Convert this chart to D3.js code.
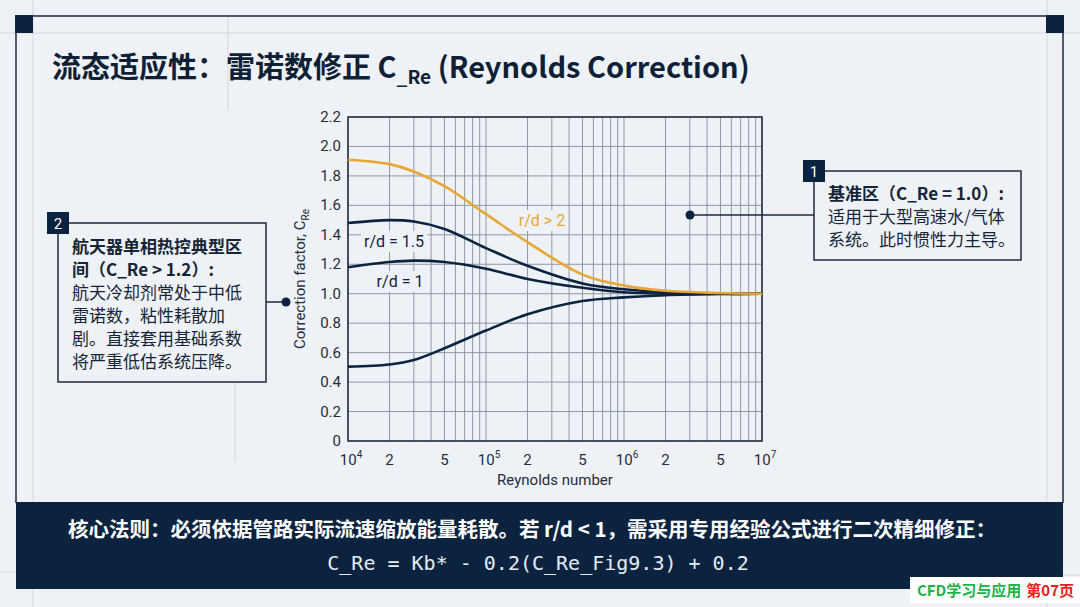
<!DOCTYPE html>
<html>
<head>
<meta charset="utf-8">
<script src="https://cdn.jsdelivr.net/npm/d3@7"></script>
<style>
  html, body { margin: 0; padding: 0; background: #eef2f6; }
  svg { display: block; }
  text { font-family: Roboto, "Noto Sans CJK SC", sans-serif; }
  .cjk { font-family: "Noto Sans CJK SC", "Noto Sans", sans-serif; }
</style>
</head>
<body>
<div id="chart"></div>
<script>
// data
var reynolds = [1e4, 2e4, 3e4, 5e4, 1e5, 2e5, 5e5, 1e6, 2e6, 5e6, 1e7];
var rdOver2 = [1.91, 1.88, 1.83, 1.73, 1.54, 1.35, 1.13, 1.055, 1.02, 1.005, 1.0];
var rd15 = [1.48, 1.50, 1.49, 1.44, 1.31, 1.19, 1.07, 1.03, 1.01, 1.0, 1.0];
var rd1 = [1.18, 1.215, 1.225, 1.215, 1.17, 1.10, 1.04, 1.01, 1.0, 1.0, 1.0];
var rdLow = [0.505, 0.52, 0.55, 0.63, 0.75, 0.86, 0.95, 0.975, 0.99, 0.998, 1.0];

var yTicks = [0, 0.2, 0.4, 0.6, 0.8, 1.0, 1.2, 1.4, 1.6, 1.8, 2.0, 2.2];
var xTickLabels = [[1e4, '10', '4'], [2e4, '2'], [5e4, '5'], [1e5, '10', '5'], [2e5, '2'], [5e5, '5'],
  [1e6, '10', '6'], [2e6, '2'], [5e6, '5'], [1e7, '10', '7']];

var titleMain = '流态适应性：雷诺数修正 C';
var titleSub = '_Re';
var titleTail = ' (Reynolds Correction)';

var box1Lines = ['基准区（C_Re = 1.0）:', '适用于大型高速水/气体', '系统。此时惯性力主导。'];
var box2Lines = ['航天器单相热控典型区', '间（C_Re > 1.2）:', '航天冷却剂常处于中低', '雷诺数，粘性耗散加', '剧。直接套用基础系数', '将严重低估系统压降。'];
var footerRule = '核心法则：必须依据管路实际流速缩放能量耗散。若 r/d < 1，需采用专用经验公式进行二次精细修正：';
var footerFormula = 'C_Re = Kb* - 0.2(C_Re_Fig9.3) + 0.2';

var W = 1080, H = 607;
var navy = '#0c2340';
var orange = '#e8a735';
var bg = '#eef2f6';

var svg = d3.select('#chart').append('svg')
  .attr('width', W)
  .attr('height', H);

svg.append('rect').attr('width', W).attr('height', H).attr('fill', bg);

// faint background guide lines
var guide = svg.append('g').attr('stroke', '#d3d9e1').attr('stroke-width', 1);
guide.append('line').attr('x1', 33).attr('x2', 33).attr('y1', 0).attr('y2', H);
guide.append('line').attr('x1', 1047).attr('x2', 1047).attr('y1', 0).attr('y2', H);
guide.append('line').attr('x1', 0).attr('x2', W).attr('y1', 33).attr('y2', 33);
guide.append('line').attr('x1', 228).attr('x2', 228).attr('y1', 16).attr('y2', 110);
guide.append('line').attr('x1', 235).attr('x2', 235).attr('y1', 380).attr('y2', 463);
guide.append('line').attr('x1', 0).attr('x2', 33).attr('y1', 572).attr('y2', 572);
guide.append('line').attr('x1', 1063).attr('x2', W).attr('y1', 575).attr('y2', 575);

// outer frame
var frame = svg.append('g').attr('stroke', '#1c2b3d').attr('stroke-width', 1.5).attr('fill', 'none');
frame.append('path').attr('d', 'M16,503 L16,16 L1063,16 L1063,503');
svg.append('rect').attr('x', 15).attr('y', 15).attr('width', 18).attr('height', 18).attr('fill', navy);
svg.append('rect').attr('x', 1046).attr('y', 15).attr('width', 18).attr('height', 18).attr('fill', navy);

// title
var title = svg.append('text')
  .attr('class', 'cjk')
  .attr('x', 52).attr('y', 78)
  .attr('fill', '#0f1f35')
  .style('font-size', '29px')
  .style('font-weight', 700);
title.append('tspan').text(titleMain);
title.append('tspan').attr('dy', 6).style('font-size', '19px').text(titleSub);
title.append('tspan').attr('dy', -6).text(titleTail);

// plot
var plotLeft = 348, plotRight = 762, plotTop = 117, plotBottom = 441;

var x = d3.scaleLog().domain([1e4, 1e7]).range([plotLeft, plotRight]);
var y = d3.scaleLinear().domain([0, 2.2]).range([plotBottom, plotTop]);

var grid = svg.append('g').attr('stroke', '#8d98a5').attr('stroke-width', 1);
var minor = [];
[1e4, 1e5, 1e6].forEach(function(d) {
  for (var k = 1; k <= 9; k++) minor.push(d * k);
});
minor.push(1e7);

grid.selectAll('line.vx')
  .data(minor)
  .enter()
  .append('line')
  .attr('class', 'vx')
  .attr('x1', function(d) { return x(d); })
  .attr('x2', function(d) { return x(d); })
  .attr('y1', plotTop)
  .attr('y2', plotBottom);

grid.selectAll('line.hy')
  .data(yTicks)
  .enter()
  .append('line')
  .attr('class', 'hy')
  .attr('x1', plotLeft)
  .attr('x2', plotRight)
  .attr('y1', function(d) { return y(d); })
  .attr('y2', function(d) { return y(d); });

svg.append('rect')
  .attr('x', plotLeft).attr('y', plotTop)
  .attr('width', plotRight - plotLeft).attr('height', plotBottom - plotTop)
  .attr('fill', 'none')
  .attr('stroke', '#1e2a38')
  .attr('stroke-width', 1.5);

// y tick labels
svg.selectAll('text.yt')
  .data(yTicks)
  .enter()
  .append('text')
  .attr('class', 'yt')
  .attr('x', plotLeft - 7)
  .attr('y', function(d) { return y(d) + 5; })
  .attr('text-anchor', 'end')
  .attr('fill', '#1f2d3d')
  .style('font-size', '15px')
  .text(function(d) { return d === 0 ? '0' : d3.format('.1f')(d); });

// x tick labels
var xt = svg.selectAll('text.xt')
  .data(xTickLabels)
  .enter()
  .append('text')
  .attr('class', 'xt')
  .attr('x', function(d) { return x(d[0]) + (d[2] ? 3 : 0); })
  .attr('y', plotBottom + 24)
  .attr('text-anchor', 'middle')
  .attr('fill', '#1f2d3d')
  .style('font-size', '15px');
xt.append('tspan').text(function(d) { return d[1]; });
xt.append('tspan')
  .attr('dy', -7)
  .style('font-size', '10px')
  .text(function(d) { return d[2] || ''; });

svg.append('text')
  .attr('x', (plotLeft + plotRight) / 2)
  .attr('y', 485)
  .attr('text-anchor', 'middle')
  .attr('fill', '#1f2d3d')
  .style('font-size', '15px')
  .text('Reynolds number');

var yl = svg.append('text')
  .attr('transform', 'translate(305,' + ((plotTop + plotBottom) / 2) + ') rotate(-90)')
  .attr('text-anchor', 'middle')
  .attr('fill', '#1f2d3d')
  .style('font-size', '15px');
yl.append('tspan').text('Correction factor, C');
yl.append('tspan').attr('dy', 4).style('font-size', '10px').text('Re');

// curve labels (with a background patch over the grid)
var curveLabels = [
  { text: 'r/d > 2', x: 542, y: 226, color: orange },
  { text: 'r/d = 1.5', x: 394, y: 247, color: navy },
  { text: 'r/d = 1', x: 400, y: 287, color: navy }
];
var labelG = svg.selectAll('g.cl')
  .data(curveLabels)
  .enter()
  .append('g')
  .attr('class', 'cl');
var labelBg = labelG.append('rect').attr('fill', bg);
var labelText = labelG.append('text')
  .attr('x', function(d) { return d.x; })
  .attr('y', function(d) { return d.y; })
  .attr('text-anchor', 'middle')
  .attr('fill', function(d) { return d.color; })
  .style('font-size', '16px')
  .text(function(d) { return d.text; });
labelText.each(function(d, i) {
  var b = this.getBBox();
  d3.select(labelBg.nodes()[i])
    .attr('x', b.x - 3).attr('y', b.y - 1)
    .attr('width', b.width + 6).attr('height', b.height + 2);
});

// curves
var line = d3.line()
  .x(function(d) { return x(d[0]); })
  .y(function(d) { return y(d[1]); })
  .curve(d3.curveCatmullRom.alpha(0.5));

var series = [
  { values: rdLow, color: navy },
  { values: rd1, color: navy },
  { values: rd15, color: navy },
  { values: rdOver2, color: orange }
];

svg.selectAll('path.curve')
  .data(series)
  .enter()
  .append('path')
  .attr('class', 'curve')
  .attr('d', function(s) { return line(reynolds.map(function(r, i) { return [r, s.values[i]]; })); })
  .attr('fill', 'none')
  .attr('stroke', function(s) { return s.color; })
  .attr('stroke-width', 2.6);

// callout boxes
function callout(bx, by, bw, bh, num, lines, boldCount, tx, ty, lh) {
  svg.append('rect')
    .attr('x', bx).attr('y', by).attr('width', bw).attr('height', bh)
    .attr('fill', bg)
    .attr('stroke', '#1c2b3d')
    .attr('stroke-width', 1.5);
  svg.append('rect')
    .attr('x', bx - 11).attr('y', by - 11).attr('width', 22).attr('height', 22)
    .attr('fill', navy);
  svg.append('text')
    .attr('x', bx).attr('y', by + 6)
    .attr('text-anchor', 'middle')
    .attr('fill', '#ffffff')
    .style('font-size', '15px')
    .text(num);
  svg.selectAll(null)
    .data(lines)
    .enter()
    .append('text')
    .attr('class', 'cjk')
    .attr('x', tx)
    .attr('y', function(d, i) { return ty + i * lh; })
    .attr('fill', '#152436')
    .style('font-size', '17px')
    .style('font-weight', function(d, i) { return i < boldCount ? 700 : 400; })
    .text(function(d) { return d; });
}

// connector 1
svg.append('line').attr('x1', 690).attr('x2', 815).attr('y1', 215).attr('y2', 215)
  .attr('stroke', '#1c2b3d').attr('stroke-width', 1.5);
svg.append('circle').attr('cx', 690).attr('cy', 215).attr('r', 4.5).attr('fill', navy);
callout(814, 171, 207, 89, '1', box1Lines, 1, 828, 200, 23);

// connector 2
svg.append('line').attr('x1', 266).attr('x2', 286).attr('y1', 302).attr('y2', 302)
  .attr('stroke', '#1c2b3d').attr('stroke-width', 1.5);
svg.append('circle').attr('cx', 286).attr('cy', 302).attr('r', 4.5).attr('fill', navy);
callout(58, 223, 208, 159, '2', box2Lines, 2, 72, 253, 23);

// footer band
svg.append('rect')
  .attr('x', 16).attr('y', 502).attr('width', 1047).attr('height', 87)
  .attr('fill', navy);
svg.append('text')
  .attr('class', 'cjk')
  .attr('x', 532).attr('y', 537)
  .attr('text-anchor', 'middle')
  .attr('fill', '#ffffff')
  .style('font-size', '20.5px')
  .style('font-weight', 700)
  .text(footerRule);
svg.append('text')
  .attr('x', 538).attr('y', 570)
  .attr('text-anchor', 'middle')
  .attr('fill', '#e6ebf1')
  .style('font-family', '"DejaVu Sans Mono", monospace')
  .style('font-size', '20px')
  .text(footerFormula);

// watermark
svg.append('rect')
  .attr('x', 910).attr('y', 577).attr('width', 170).attr('height', 26)
  .attr('fill', '#ffffff');
var wm = svg.append('text')
  .attr('class', 'cjk')
  .attr('x', 917).attr('y', 596)
  .style('font-size', '15px')
  .style('font-weight', 700);
wm.append('tspan').attr('fill', '#1fb14c').text('CFD学习与应用');
wm.append('tspan').attr('dx', 5).attr('fill', '#e8221b').text('第07页');
</script>
</body>
</html>
